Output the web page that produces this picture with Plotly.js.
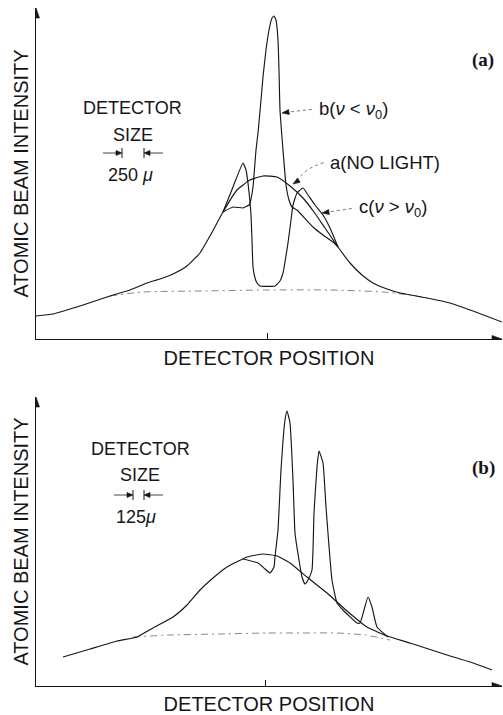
<!DOCTYPE html>
<html>
<head>
<meta charset="utf-8">
<script src="https://cdn.plot.ly/plotly-3.0.1.min.js"></script>
<style>html,body{margin:0;padding:0;background:#fff;}#chart{width:503px;height:715px;}</style>
</head>
<body>
<div id="chart"></div>
<script>
// ---- Panel (a): detector size 250 micron (arbitrary position / intensity units)
const aNoLightX = [0,17,47,74,94,111,124,137,151,164,174,187,201,214,227,241,254,267,278,289,302,314,326,337,351,364,391,414,437,466];
const aNoLightY = [23,25,34,43,49,56,60,65,73,86,103,127,149,159,163,162,153,141,127,111,92,76,64,56,50,46,41,36,28,17];

const aRedX = [187,197,207,213,214,217,220,222,225,227,230,233,236,238,240,242,243,244,247,250,253,256,261,277,287,297,302];
const aRedY = [127,132,131,134,136,152,189,206,239,262,289,309,321,323,319,299,269,229,189,154,139,132,129,112,104,97,92];

const aBlueX = [187,197,207,210,212,214,215,216,217,219,221,224,239,244,247,249,252,255,257,261,267,272,279,287,294,302];
const aBlueY = [127,152,176,169,156,137,124,99,72,61,56,53,53,58,66,77,96,119,134,146,151,144,134,124,111,92];

const aBackX = [74,107,164,231,294,347,374,391];
const aBackY = [43,47,48,49,49,47,44,41];

// ---- Panel (b): detector size 125 micron
const bNoLightX = [27,54,81,101,117,137,151,164,177,191,211,227,241,254,271,291,311,331,351,374,411,434,456];
const bNoLightY = [29,37,45,49,58,69,81,96,108,119,129,132,130,123,109,93,75,59,50,43,31,24,16];

const bLightX = [207,222,229,234,238,239,242,245,249,251,254,257,259,263,266,269,272,276,278,281,283,287,290,296,301,307,321,324,328,332,336,341,352];
const bLightY = [127,123,117,113,119,129,156,216,266,275,263,206,153,126,109,102,106,116,173,219,235,223,179,106,83,76,63,63,76,89,79,59,49];

const bBackX = [97,134,184,231,264,301,329,354];
const bBackY = [49,51,52,53,53,53,51,46];

// labels
const axisTitleY = "ATOMIC BEAM INTENSITY";
const axisTitleX = "DETECTOR POSITION";
const curveLabels = ["b(<i>ν</i> &lt; <i>ν</i><sub>0</sub>)", "a(NO LIGHT)", "c(<i>ν</i> &gt; <i>ν</i><sub>0</sub>)"];

const ink = "#161616";
const solid = {color: ink, width: 1.15, shape: "spline", smoothing: 0.4};
const dashed = {color: "#666", width: 0.8, dash: "7px,4px,2px,4px", shape: "spline", smoothing: 0.6};

function tr(x, y, line, xa, ya) {
  return {x: x, y: y, type: "scatter", mode: "lines", line: line, xaxis: xa, yaxis: ya, hoverinfo: "skip", showlegend: false};
}

const data = [
  tr(aBackX, aBackY, dashed, "x", "y"),
  tr(aNoLightX, aNoLightY, solid, "x", "y"),
  tr(aRedX, aRedY, solid, "x", "y"),
  tr(aBlueX, aBlueY, solid, "x", "y"),
  tr(bBackX, bBackY, dashed, "x2", "y2"),
  tr(bNoLightX, bNoLightY, solid, "x2", "y2"),
  tr(bLightX, bLightY, solid, "x2", "y2")
];

const W = 503, H = 715;
const font = {family: "Liberation Sans, Arial, sans-serif", size: 18, color: ink};
const bigFont = Object.assign({}, font, {size: 20});
const labFont = Object.assign({}, font, {size: 18.5});

function axX(tick, anchor, standoff) {
  return {
    domain: [36 / W, 502 / W], range: [0, 466], anchor: anchor,
    showline: true, linecolor: ink, linewidth: 1, showgrid: false, zeroline: false,
    tickmode: "array", tickvals: [tick], ticks: "inside", ticklen: 6, tickcolor: ink, tickwidth: 1,
    showticklabels: false, fixedrange: true, automargin: false,
    title: {text: axisTitleX, font: bigFont, standoff: standoff}
  };
}
function axY(top, bot, maxv, anchor) {
  return {
    domain: [(H - bot) / H, (H - top) / H], range: [0, maxv], anchor: anchor,
    showline: true, linecolor: ink, linewidth: 1, showgrid: false, zeroline: false,
    ticks: "", showticklabels: false, fixedrange: true, automargin: false,
    title: {text: axisTitleY, font: bigFont, standoff: 1}
  };
}

function txt(t, x, y, xr, yr, opts) {
  return Object.assign({text: t, x: x, y: y, xref: xr, yref: yr, showarrow: false, font: font, xanchor: "center", yanchor: "middle"}, opts || {});
}
// pixel-sized arrowhead anchored at a data point
function tri(xr, yr, x, y, path) {
  return {type: "path", xref: xr, yref: yr, xsizemode: "pixel", ysizemode: "pixel", xanchor: x, yanchor: y,
          path: path, fillcolor: ink, line: {color: ink, width: 0.6}};
}
function pxLine(xr, yr, x, y, x0, y0, x1, y1, w) {
  return {type: "line", xref: xr, yref: yr, xsizemode: "pixel", ysizemode: "pixel", xanchor: x, yanchor: y,
          x0: x0, y0: y0, x1: x1, y1: y1, line: {color: ink, width: w || 1}};
}

const annotations = [
  // panel letters
  txt("<b>(a)</b>", 447, 279, "x", "y", {font: {family: "Liberation Serif, Times New Roman, serif", size: 19, color: ink}}),
  txt("<b>(b)</b>", 447, 218, "x2", "y2", {font: {family: "Liberation Serif, Times New Roman, serif", size: 19, color: ink}}),
  // detector size (a)
  txt("DETECTOR", 96, 231, "x", "y"),
  txt("SIZE", 97, 204, "x", "y"),
  txt("250 <i>μ</i>", 94, 164, "x", "y"),
  // detector size (b)
  txt("DETECTOR", 104, 237, "x2", "y2"),
  txt("SIZE", 104, 211, "x2", "y2"),
  txt("125<i>μ</i>", 100, 169, "x2", "y2"),
  // curve labels (a)
  txt(curveLabels[0], 281, 229, "x", "y", {xanchor: "left", font: labFont}),
  txt(curveLabels[1], 292, 177, "x", "y", {xanchor: "left", font: labFont}),
  txt(curveLabels[2], 321, 131, "x", "y", {xanchor: "left", font: labFont})
];

const lead = {color: "#555", width: 0.8, dash: "3px,3px"};
const shapes = [
  // axis arrowheads
  tri("x", "y", 0, 331, "M0,0 L-3.5,-10 L3.5,-10 Z"),
  tri("x", "y", 466, 0, "M0,0 L-10,3.5 L-10,-3.5 Z"),
  tri("x2", "y2", 0, 289, "M0,0 L-3.5,-10 L3.5,-10 Z"),
  tri("x2", "y2", 466, 0, "M0,0 L-10,3.5 L-10,-3.5 Z"),
  // leaders
  {type: "line", xref: "x", yref: "y", x0: 249, y0: 226.5, x1: 279, y1: 230, line: lead},
  {type: "path", xref: "x", yref: "y", path: "M 261 158 Q 270 172 290 177", line: lead},
  {type: "line", xref: "x", yref: "y", x0: 289, y0: 126.5, x1: 319, y1: 131, line: lead},
  tri("x", "y", 246, 226, "M0,0 L6.6,3.5 L7.4,-1.5 Z"),
  tri("x", "y", 257, 155, "M0,0 L4.5,5.9 L7.2,1.7 Z"),
  tri("x", "y", 286, 126, "M0,0 L6.6,3.5 L7.4,-1.5 Z"),
  // detector-size markers (a)
  pxLine("x", "y", 86, 186, 0, -5, 0, 5),
  pxLine("x", "y", 86, 186, -19, 0, -5, 0, 0.8),
  tri("x", "y", 86, 186, "M0,0 L-6,2.5 L-6,-2.5 Z"),
  pxLine("x", "y", 108, 186, 0, -5, 0, 5),
  pxLine("x", "y", 108, 186, 19, 0, 5, 0, 0.8),
  tri("x", "y", 108, 186, "M0,0 L6,2.5 L6,-2.5 Z"),
  // detector-size markers (b)
  pxLine("x2", "y2", 97, 191, 0, -5, 0, 5),
  pxLine("x2", "y2", 97, 191, -19, 0, -5, 0, 0.8),
  tri("x2", "y2", 97, 191, "M0,0 L-6,2.5 L-6,-2.5 Z"),
  pxLine("x2", "y2", 108, 191, 0, -5, 0, 5),
  pxLine("x2", "y2", 108, 191, 19, 0, 5, 0, 0.8),
  tri("x2", "y2", 108, 191, "M0,0 L6,2.5 L6,-2.5 Z")
];

const layout = {
  width: W, height: H,
  margin: {l: 0, r: 0, t: 0, b: 0},
  paper_bgcolor: "#fff", plot_bgcolor: "#fff",
  showlegend: false,
  xaxis: axX(231, "y", 11),
  yaxis: axY(8, 339, 331, "x"),
  xaxis2: axX(229, "y2", 11),
  yaxis2: axY(397, 686, 289, "x2"),
  annotations: annotations,
  shapes: shapes,
  font: font
};

Plotly.newPlot("chart", data, layout, {staticPlot: true, displayModeBar: false});
</script>
</body>
</html>
